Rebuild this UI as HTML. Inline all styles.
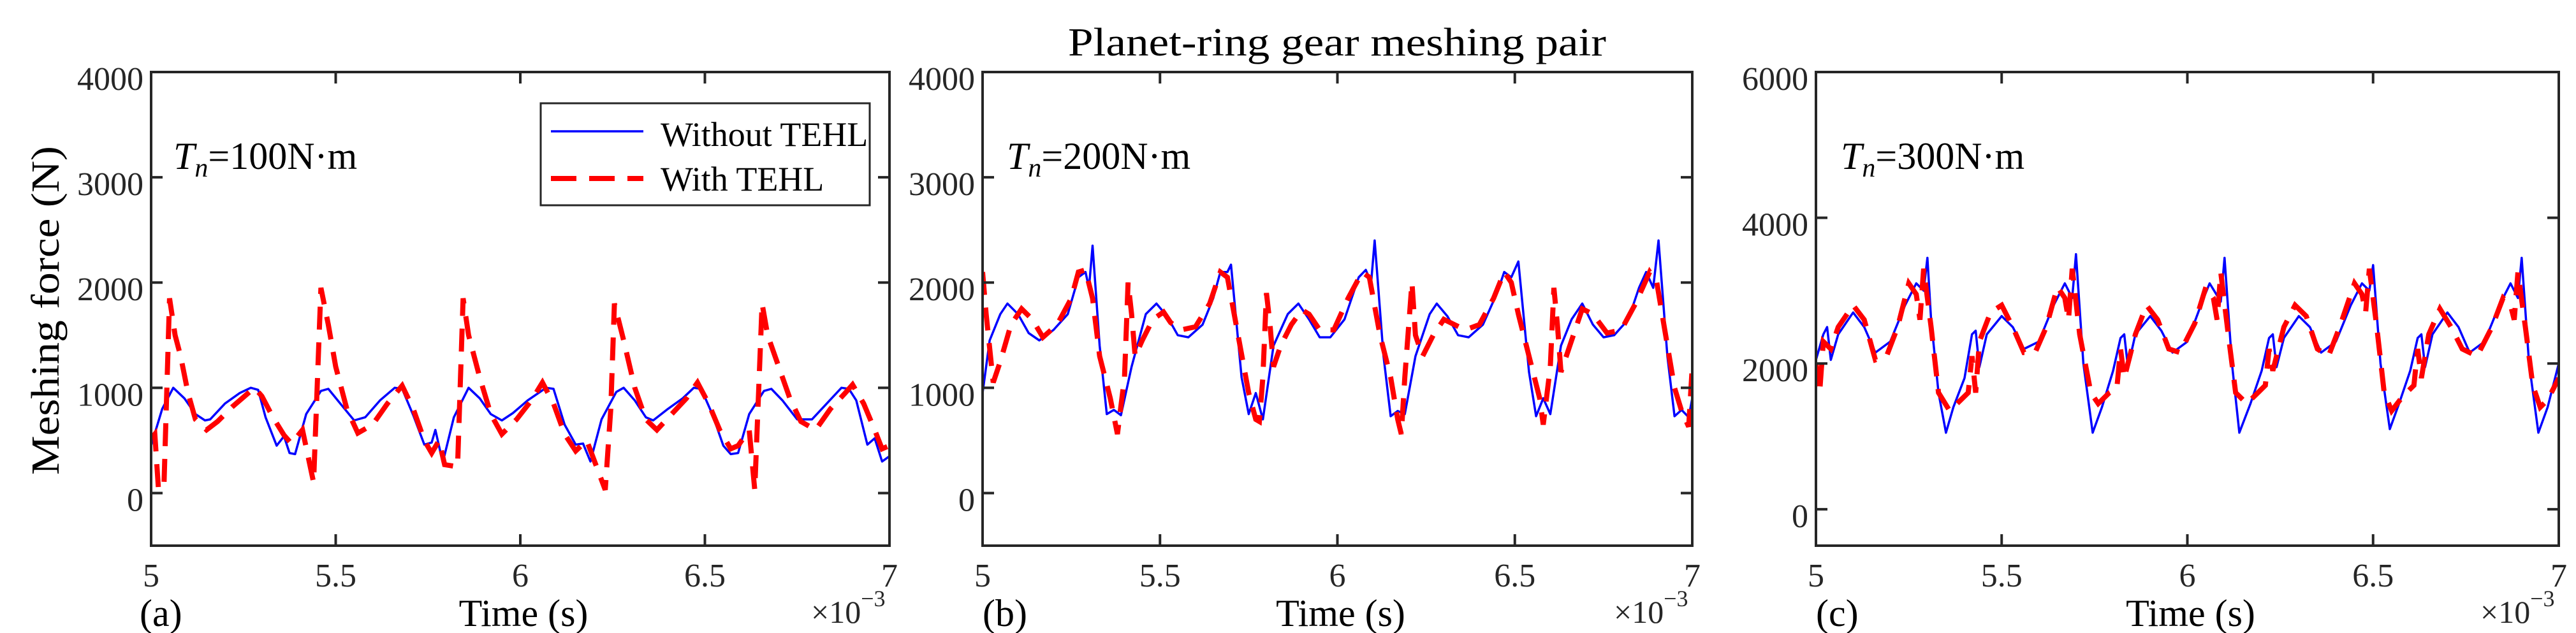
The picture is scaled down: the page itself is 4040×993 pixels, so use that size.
<!DOCTYPE html>
<html><head><meta charset="utf-8"><style>
html,body{margin:0;padding:0;background:#fff;}
svg{display:block;font-family:"Liberation Serif",serif;}
</style></head><body>
<svg id="fig" width="4040" height="993" viewBox="0 0 4040 993" xmlns="http://www.w3.org/2000/svg">
<text x="2097" y="87" font-size="62" text-anchor="middle" textLength="844" lengthAdjust="spacingAndGlyphs">Planet-ring gear meshing pair</text>
</svg>
<script>
const xTicks=[5,5.5,6,6.5,7];
const xTickLabels=["5","5.5","6","6.5","7"];
const yTicksAB=[0,1000,2000,3000,4000];
const yTicksC=[0,2000,4000,6000];
const torqueLabels=["100","200","300"];
const panelLetters=["(a)","(b)","(c)"];

const aBlueT=[5.00,5.03,5.06,5.09,5.12,5.146,5.16,5.20,5.24,5.27,5.29,5.31,5.34,5.36,5.375,5.39,5.42,5.46,5.48,5.51,5.55,5.58,5.62,5.66,5.68,5.71,5.74,5.76,5.77,5.79,5.82,5.86,5.89,5.92,5.95,5.98,6.02,6.07,6.09,6.12,6.15,6.17,6.19,6.22,6.26,6.28,6.31,6.34,6.36,6.40,6.44,6.47,6.49,6.52,6.55,6.57,6.59,6.62,6.66,6.68,6.71,6.75,6.79,6.83,6.87,6.89,6.91,6.94,6.96,6.98,7.00];
const aBlueV=[450,800,1000,900,750,690,700,850,950,1000,980,720,450,540,380,370,750,970,990,860,690,720,880,1000,990,740,460,480,600,290,720,1000,900,750,690,760,880,1000,990,650,460,470,300,700,960,1000,880,720,690,800,900,1000,990,750,450,370,380,750,970,990,880,700,700,850,1000,990,880,460,520,300,350];
const aRedT=[5.00,5.01,5.02,5.035,5.05,5.065,5.08,5.10,5.12,5.15,5.18,5.22,5.26,5.28,5.30,5.33,5.36,5.38,5.41,5.44,5.46,5.48,5.50,5.53,5.56,5.60,5.64,5.68,5.71,5.74,5.76,5.78,5.795,5.83,5.845,5.86,5.89,5.92,5.95,5.99,6.03,6.06,6.09,6.12,6.15,6.18,6.23,6.245,6.255,6.28,6.31,6.34,6.37,6.41,6.45,6.48,6.51,6.54,6.57,6.59,6.62,6.635,6.655,6.67,6.70,6.73,6.76,6.80,6.84,6.88,6.90,6.93,6.96,6.98,7.00];
const aRedV=[520,560,30,100,1850,1500,1300,950,700,600,680,820,940,1000,920,720,550,470,600,100,1950,1600,1200,800,570,650,850,1020,800,500,380,500,270,250,1850,1500,1100,750,560,700,880,1050,850,560,400,500,30,800,1800,1450,1000,700,600,750,900,1050,850,600,420,450,600,30,1800,1500,1200,900,680,600,800,950,1030,850,600,420,450];

const bBlueT=[5.00,5.02,5.05,5.07,5.10,5.13,5.16,5.20,5.24,5.27,5.29,5.30,5.31,5.33,5.35,5.37,5.39,5.42,5.46,5.49,5.52,5.55,5.58,5.62,5.65,5.67,5.69,5.70,5.73,5.75,5.77,5.79,5.82,5.86,5.89,5.92,5.95,5.98,6.02,6.06,6.08,6.095,6.105,6.13,6.15,6.17,6.19,6.22,6.26,6.28,6.31,6.34,6.37,6.41,6.45,6.47,6.49,6.51,6.54,6.56,6.58,6.60,6.63,6.66,6.69,6.72,6.75,6.78,6.82,6.85,6.87,6.89,6.905,6.93,6.95,6.97,6.99,7.00];
const bBlueV=[950,1450,1700,1800,1700,1520,1450,1550,1700,2050,2100,1950,2350,1400,750,790,740,1200,1700,1800,1680,1500,1480,1600,1850,2100,2100,2170,1100,750,950,700,1400,1700,1800,1650,1480,1480,1650,2050,2120,2000,2400,1300,730,780,750,1300,1700,1800,1680,1500,1480,1600,1900,2100,2050,2200,1150,730,900,750,1400,1650,1800,1600,1480,1500,1650,1950,2100,1950,2400,1300,730,790,720,900];
const bRedT=[5.00,5.01,5.03,5.05,5.08,5.11,5.14,5.17,5.21,5.25,5.27,5.29,5.31,5.33,5.36,5.38,5.40,5.41,5.42,5.43,5.45,5.48,5.51,5.53,5.56,5.60,5.64,5.67,5.69,5.72,5.75,5.77,5.78,5.79,5.80,5.81,5.82,5.84,5.87,5.90,5.92,5.95,5.99,6.03,6.07,6.09,6.12,6.15,6.17,6.18,6.19,6.21,6.22,6.24,6.27,6.30,6.33,6.36,6.40,6.44,6.47,6.49,6.51,6.54,6.57,6.58,6.60,6.61,6.62,6.63,6.66,6.69,6.72,6.76,6.80,6.84,6.88,6.90,6.92,6.95,6.97,6.99,7.00];
const bRedV=[2100,1700,1050,1250,1600,1750,1650,1480,1600,1850,2100,2120,1850,1300,900,560,1100,2000,1700,1300,1450,1650,1720,1620,1550,1580,1800,2100,2050,1500,950,700,680,1100,1900,1600,1200,1400,1600,1740,1700,1550,1550,1850,2100,2050,1500,1100,700,560,1100,2000,1500,1300,1500,1650,1600,1550,1600,1850,2100,2000,1700,1300,900,650,1200,1950,1600,1150,1450,1750,1700,1520,1550,1800,2100,2000,1600,1000,780,630,1200];

const cBlueT=[5.00,5.02,5.03,5.04,5.06,5.10,5.13,5.16,5.20,5.24,5.27,5.29,5.30,5.31,5.33,5.35,5.37,5.40,5.42,5.43,5.44,5.46,5.50,5.53,5.56,5.60,5.64,5.67,5.69,5.70,5.72,5.745,5.77,5.80,5.82,5.83,5.84,5.86,5.90,5.93,5.96,6.00,6.04,6.06,6.09,6.10,6.12,6.14,6.17,6.20,6.22,6.23,6.24,6.26,6.30,6.33,6.36,6.40,6.44,6.47,6.49,6.50,6.52,6.545,6.57,6.60,6.62,6.63,6.64,6.66,6.70,6.73,6.76,6.80,6.84,6.87,6.89,6.90,6.92,6.945,6.97,7.00];
const cBlueV=[2050,2400,2500,2050,2400,2700,2500,2150,2300,2800,3100,3000,3450,2600,1600,1050,1400,1800,2400,2450,1950,2400,2650,2500,2200,2300,2800,3100,2900,3500,2000,1050,1400,1900,2350,2400,1950,2400,2650,2450,2150,2300,2850,3100,2850,3450,2000,1050,1450,1900,2350,2400,1950,2350,2650,2500,2150,2300,2800,3100,3000,3350,2000,1100,1450,1900,2350,2400,1950,2400,2700,2500,2150,2300,2800,3100,2900,3450,2000,1050,1400,2000];
const cRedT=[5.00,5.01,5.02,5.04,5.06,5.10,5.13,5.16,5.19,5.22,5.25,5.27,5.28,5.29,5.31,5.33,5.36,5.39,5.41,5.42,5.43,5.44,5.47,5.50,5.53,5.56,5.59,5.62,5.65,5.67,5.68,5.69,5.71,5.74,5.76,5.79,5.81,5.82,5.83,5.86,5.89,5.92,5.95,5.98,6.02,6.05,6.07,6.08,6.09,6.11,6.13,6.16,6.19,6.21,6.22,6.23,6.26,6.29,6.32,6.35,6.38,6.41,6.45,6.47,6.48,6.49,6.51,6.53,6.55,6.58,6.61,6.62,6.63,6.65,6.68,6.71,6.74,6.78,6.82,6.85,6.87,6.88,6.89,6.91,6.93,6.95,6.97,7.00];
const cRedV=[2000,1600,2300,2200,2500,2800,2600,2050,2100,2500,3100,2950,2600,3300,2500,1600,1350,1500,1600,2100,1600,2300,2700,2800,2500,2150,2150,2500,3050,2900,2600,3300,2400,1600,1450,1600,1650,2200,1800,2400,2800,2600,2200,2150,2550,3050,2900,2600,3250,2400,1600,1450,1600,1700,2200,1900,2500,2800,2650,2200,2100,2500,3100,2950,2700,3300,2500,1600,1350,1550,1700,2200,1800,2400,2750,2500,2200,2100,2500,2900,2800,2600,3250,2500,1700,1400,1500,1800];

const NS="http://www.w3.org/2000/svg";
const svg=document.getElementById('fig');
function mk(tag,attrs,parent){const e=document.createElementNS(NS,tag);for(const k in attrs)e.setAttribute(k,attrs[k]);(parent||svg).appendChild(e);return e;}

const panels=[
 {L:237,R:1395,ymin:-500,ymax:4000,yt:yTicksAB,bt:aBlueT,bv:aBlueV,rt:aRedT,rv:aRedV,tn:272,letter:219},
 {L:1541,R:2654,ymin:-500,ymax:4000,yt:yTicksAB,bt:bBlueT,bv:bBlueV,rt:bRedT,rv:bRedV,tn:1579,letter:1541},
 {L:2848,R:4013,ymin:-500,ymax:6000,yt:yTicksC,bt:cBlueT,bv:cBlueV,rt:cRedT,rv:cRedV,tn:2887,letter:2848}
];
const T=113,B=856;
panels.forEach((p,i)=>{
 const g=mk('g',{});
 
 
 const xs=t=>p.L+(t-5)/2*(p.R-p.L);
 const ys=v=>B-(v-p.ymin)/(p.ymax-p.ymin)*(B-T);
 const cid='clip'+i;
 const cp=mk('clipPath',{id:cid},g);mk('rect',{x:p.L,y:T,width:p.R-p.L,height:B-T},cp);
 const blue=mk('polyline',{points:p.bt.map((t,k)=>xs(t).toFixed(1)+','+ys(p.bv[k]).toFixed(1)).join(' '),fill:'none',stroke:'#0000ff','stroke-width':3.5,'stroke-linejoin':'round','clip-path':'url(#'+cid+')'},g);
 
 
 const red=mk('polyline',{points:p.rt.map((t,k)=>xs(t).toFixed(1)+','+ys(p.rv[k]).toFixed(1)).join(' '),fill:'none',stroke:'#ff0000','stroke-width':8,'stroke-dasharray':'36 20','clip-path':'url(#'+cid+')'},g);
 
 
 const ax=mk('rect',{x:p.L,y:T,width:p.R-p.L,height:B-T,fill:'none',stroke:'#262626','stroke-width':4},g);
 
 
 xTicks.forEach((t,k)=>{
  const x=xs(t);
  mk('line',{x1:x,y1:B,x2:x,y2:B-18,stroke:'#262626','stroke-width':4},g);
  mk('line',{x1:x,y1:T,x2:x,y2:T+18,stroke:'#262626','stroke-width':4},g);
  const tl=mk('text',{x:x,y:920,'font-size':52,'text-anchor':'middle',fill:'#262626'},g);
  tl.textContent=xTickLabels[k];
  
  
 });
 p.yt.forEach(v=>{
  const y=ys(v);
  mk('line',{x1:p.L,y1:y,x2:p.L+18,y2:y,stroke:'#262626','stroke-width':4},g);
  mk('line',{x1:p.R,y1:y,x2:p.R-18,y2:y,stroke:'#262626','stroke-width':4},g);
  const tl=mk('text',{x:p.L-12,y:y+28,'font-size':52,'text-anchor':'end',fill:'#262626'},g);
  tl.textContent=String(v);
  
  
 });
 const xl=mk('text',{x:(p.L+p.R)/2+5,y:982,'font-size':60,'text-anchor':'middle'},g);
 xl.textContent='Time (s)';
 
 
 const ex=mk('text',{x:p.R-123,y:977,'font-size':50,fill:'#262626'},g);
 ex.innerHTML='×10<tspan dy="-26" font-size="36">−3</tspan>';
 
 
 const pl=mk('text',{x:p.letter,y:982,'font-size':60},g);
 pl.textContent=panelLetters[i];
 
 
 const tn=mk('text',{x:p.tn,y:265,'font-size':60},g);
 tn.innerHTML='<tspan font-style="italic">T</tspan><tspan font-style="italic" font-size="42" dy="12">n</tspan><tspan dy="-12">='+torqueLabels[i]+'N·m</tspan>';
 
 
});
const yl=mk('text',{x:0,y:0,'font-size':62,'text-anchor':'middle',transform:'translate(92,487) rotate(-90)',textLength:516,lengthAdjust:'spacingAndGlyphs'});
yl.textContent='Meshing force (N)';


const lg=mk('g',{});


mk('rect',{x:848,y:162,width:516,height:160,fill:'#fff',stroke:'#262626','stroke-width':3},lg);
mk('line',{x1:864,y1:206,x2:1009,y2:206,stroke:'#0000ff','stroke-width':3.5},lg);
mk('line',{x1:864,y1:280,x2:1009,y2:280,stroke:'#ff0000','stroke-width':8,'stroke-dasharray':'40 20'},lg);
const l1=mk('text',{x:1036,y:229,'font-size':54},lg);l1.textContent='Without TEHL';


const l2=mk('text',{x:1036,y:299,'font-size':54},lg);l2.textContent='With TEHL';


</script>
</body></html>
